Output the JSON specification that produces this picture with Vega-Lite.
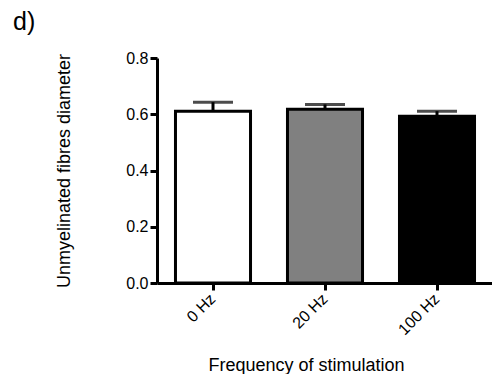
{
  "$schema": "https://vega.github.io/schema/vega-lite/v6.json",
  "width": 336,
  "height": 225,
  "autosize": "none",
  "padding": {"left": 157, "top": 58, "right": 0, "bottom": 91},
  "background": "white",
  "config": {"view": {"stroke": null}, "font": "Liberation Sans"},
  "title": {"text": "d)", "anchor": "start", "frame": "group", "dx": -144, "offset": 15, "fontSize": 25, "fontWeight": "normal", "font": "Liberation Sans", "color": "black"},
  "data": {"values": [
    {"freq": "0 Hz", "mean": 0.611, "upper": 0.643},
    {"freq": "20 Hz", "mean": 0.618, "upper": 0.635},
    {"freq": "100 Hz", "mean": 0.593, "upper": 0.611}
  ]},
  "encoding": {
    "x": {"field": "freq", "type": "nominal", "sort": ["0 Hz", "20 Hz", "100 Hz"],
      "scale": {"paddingInner": 0.33, "paddingOuter": 0.165},
      "axis": {"title": "Frequency of stimulation", "titleX": 149, "labelAngle": -45, "labelAlign": "right", "labelBaseline": "middle", "labelFontSize": 16, "labelColor": "black", "titleFontSize": 18, "titleFontWeight": "normal", "titleColor": "black", "domainColor": "black", "domainWidth": 3, "tickColor": "black", "tickWidth": 3, "tickSize": 7, "labelPadding": 6, "titlePadding": 19}}
  },
  "layer": [
    {"mark": {"type": "rule", "color": "black", "strokeWidth": 3},
     "encoding": {"y": {"field": "mean", "type": "quantitative"}, "y2": {"field": "upper"}}},
    {"mark": {"type": "tick", "color": "black", "thickness": 3, "size": 40},
     "encoding": {"y": {"field": "upper", "type": "quantitative"}}},
    {"mark": {"type": "bar", "stroke": "black", "strokeWidth": 3},
     "encoding": {
       "y": {"field": "mean", "type": "quantitative", "scale": {"domain": [0, 0.8]},
         "axis": {"title": "Unmyelinated fibres diameter", "values": [0, 0.2, 0.4, 0.6, 0.8], "format": ".1f", "grid": false, "labelFontSize": 16, "labelColor": "black", "titleFontSize": 18, "titleFontWeight": "normal", "titleColor": "black", "domainColor": "black", "domainWidth": 3, "tickColor": "black", "tickWidth": 3, "tickSize": 7, "labelPadding": 2, "titlePadding": 52}},
       "fill": {"field": "freq", "type": "nominal", "scale": {"domain": ["0 Hz", "20 Hz", "100 Hz"], "range": ["#ffffff", "#808080", "#000000"]}, "legend": null}
     }}
  ]
}
